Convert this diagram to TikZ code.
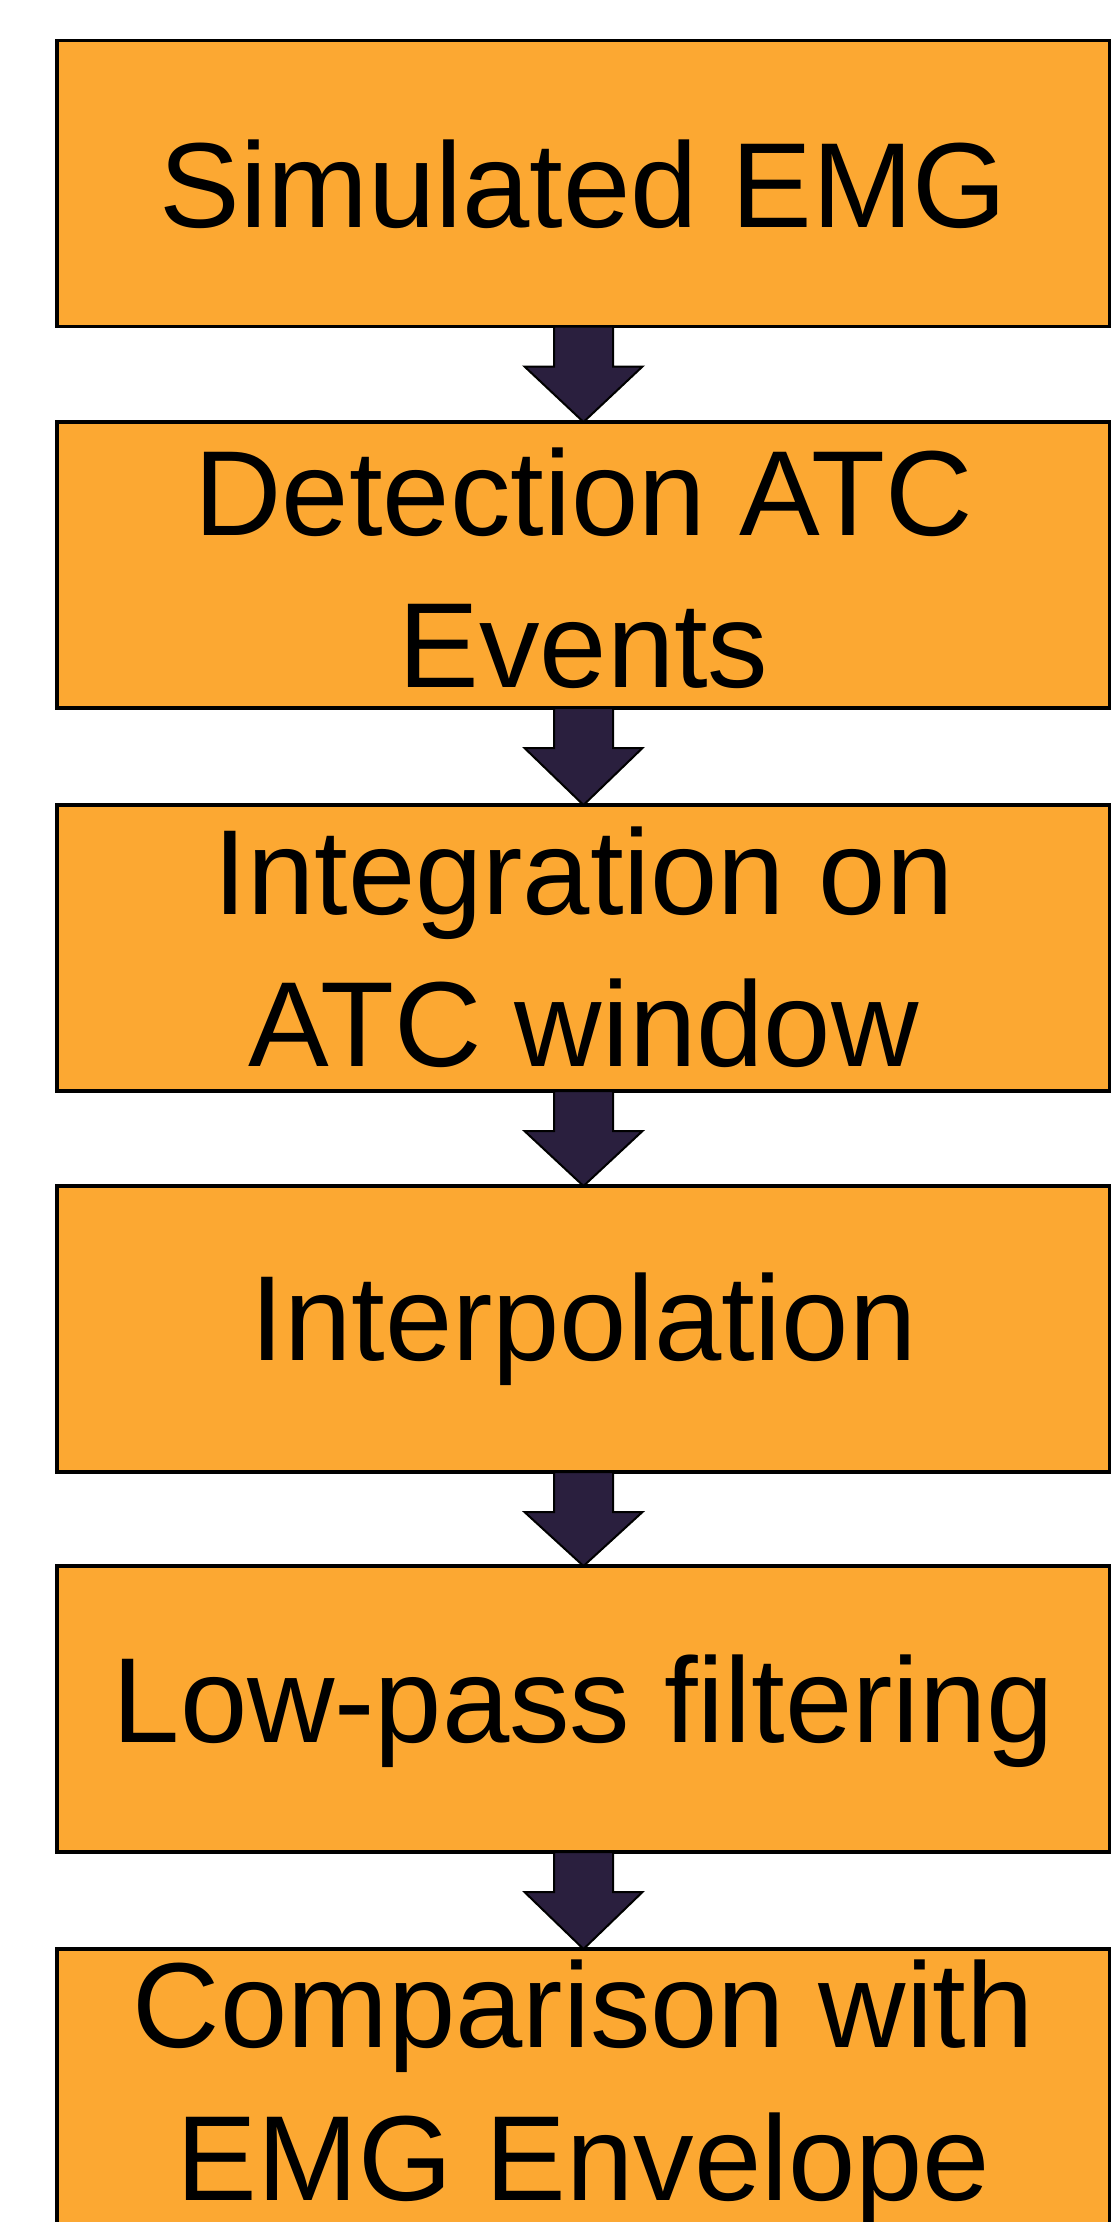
\documentclass[tikz,border=0pt]{standalone}
\usepackage{fontspec}
\setmainfont{Liberation Sans}
\usetikzlibrary{calc}
\definecolor{boxorange}{HTML}{FCA832}
\definecolor{arrowpurple}{HTML}{2A1F3E}
\begin{document}
\begin{tikzpicture}[x=1pt,y=-1pt,
  stepbox/.style={draw=black,line width=3.5pt,fill=boxorange,rectangle,
    minimum width=1053pt,minimum height=286pt,inner sep=0pt,outer sep=0pt},
  lbl/.style={anchor=base,inner sep=0pt,outer sep=0pt,text=black,
    font=\fontsize{121}{145}\selectfont},
  blockarrow/.style={fill=arrowpurple,draw=black,line width=2pt,line join=miter}]
\useasboundingbox (0,0) rectangle (1111,2222);
\clip (0,0) rectangle (1111,2222);
\fill[white] (0,0) rectangle (1111,2222);
% boxes
\node[stepbox] (b1) at (583.5,183.5) {};
\node[stepbox] (b2) at (583.5,565) {};
\node[stepbox] (b3) at (583.5,948) {};
\node[stepbox] (b4) at (583.5,1329) {};
\node[stepbox] (b5) at (583.5,1709) {};
\node[stepbox] (b6) at (583.5,2092) {};
% labels
\node[lbl] (t1) at (583.5,227) {Simulated EMG};
\node[lbl] (t2a) at (583.5,535) {Detection ATC};
\node[lbl] (t2b) at (583.5,687) {Events};
\node[lbl] (t3a) at (583.5,914) {Integration on};
\node[lbl] (t3b) at (583.5,1066) {ATC window};
\node[lbl] (t4) at (583.5,1360) {Interpolation};
\node[lbl] (t5) at (583.5,1742) {Low-pass filtering};
\node[lbl] (t6a) at (583.5,2047) {Comparison with};
\node[lbl] (t6b) at (583.5,2200) {EMG Envelope};
% block arrows
\foreach \a/\b in {b1/b2,b2/b3,b3/b4,b4/b5,b5/b6}{
  \path (\a.south) ++(0,40) coordinate (h);
  \filldraw[blockarrow] ([xshift=-29.5pt]\a.south) -- ([xshift=29.5pt]\a.south)
    -- ([xshift=29.5pt]h) -- ([xshift=59pt]h) -- (\b.north)
    -- ([xshift=-59pt]h) -- ([xshift=-29.5pt]h) -- cycle;
}
\end{tikzpicture}
\end{document}
